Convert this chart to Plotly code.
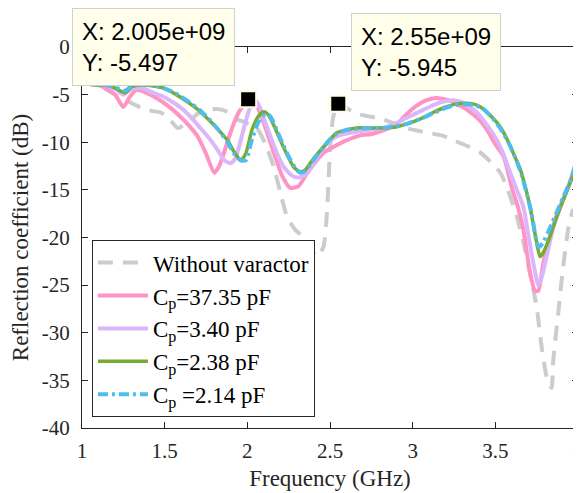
import plotly.graph_objects as go

# ---------------- data ----------------
x_gray = [1.00, 1.08, 1.15, 1.22, 1.29, 1.36, 1.42, 1.48, 1.53, 1.58, 1.64, 1.70, 1.76, 1.82, 1.88, 1.94,
          2.00, 2.06, 2.11, 2.16, 2.20, 2.24, 2.29, 2.33, 2.37, 2.42, 2.46, 2.48, 2.49, 2.50, 2.52, 2.55,
          2.60, 2.66, 2.74, 2.82, 2.90, 2.98, 3.09, 3.18, 3.25, 3.33, 3.41, 3.48, 3.53, 3.56, 3.59, 3.63,
          3.67, 3.71, 3.75, 3.78, 3.81, 3.84, 3.85, 3.88, 3.91, 3.94, 3.97]
y_gray = [-3.3, -3.8, -4.5, -5.2, -5.8, -6.4, -6.7, -6.9, -7.6, -8.5, -7.9, -7.0, -6.6, -6.5, -6.8, -7.6,
          -8.0, -8.6, -10.2, -12.6, -15.3, -17.8, -19.2, -19.8, -20.8, -22.0, -21.0, -17.8, -14.5, -10.8, -7.3, -5.9,
          -6.4, -7.0, -7.3, -7.6, -8.1, -8.6, -9.0, -9.3, -9.8, -10.4, -11.1, -12.2, -13.2, -14.3, -15.7, -17.8,
          -20.5, -23.8, -27.3, -31.5, -34.6, -35.8, -33.0, -28.0, -23.1, -19.2, -17.0]

x_pink = [1.00, 1.08, 1.14, 1.20, 1.25, 1.29, 1.33, 1.40, 1.49, 1.55, 1.60, 1.65, 1.70, 1.75, 1.80, 1.83,
          1.87, 1.91, 1.95, 1.99, 2.02, 2.06, 2.10, 2.16, 2.21, 2.26, 2.31, 2.36, 2.42, 2.47, 2.52, 2.60,
          2.68, 2.76, 2.83, 2.90, 2.96, 3.02, 3.08, 3.14, 3.20, 3.27, 3.33, 3.40, 3.45, 3.50, 3.55, 3.60,
          3.64, 3.67, 3.71, 3.74, 3.76, 3.79, 3.84, 3.89, 3.95, 4.00]
y_pink = [-3.6, -3.9, -4.3, -5.0, -6.3, -5.2, -4.5, -4.9, -5.8, -6.6, -7.4, -8.3, -9.4, -11.2, -13.2, -12.5,
          -10.5, -8.4, -6.8, -5.8, -5.6, -6.3, -8.0, -11.1, -13.5, -14.8, -14.6, -13.3, -11.9, -11.0, -10.5, -9.8,
          -9.3, -9.1, -8.7, -8.2, -7.1, -6.2, -5.6, -5.35, -5.5, -6.0, -6.6, -7.6, -8.7, -10.2, -11.5, -14.8,
          -17.0, -19.2, -23.7, -25.6, -25.6, -22.7, -19.3, -16.8, -14.3, -11.4]

x_lav = [1.00, 1.08, 1.15, 1.21, 1.25, 1.30, 1.36, 1.43, 1.49, 1.55, 1.60, 1.66, 1.71, 1.77, 1.82, 1.86,
         1.90, 1.93, 1.96, 1.99, 2.02, 2.05, 2.08, 2.11, 2.14, 2.18, 2.22, 2.27, 2.31, 2.36, 2.40, 2.44,
         2.49, 2.54, 2.60, 2.66, 2.74, 2.82, 2.90, 2.98, 3.04, 3.10, 3.17, 3.25, 3.32, 3.39, 3.45, 3.51,
         3.55, 3.59, 3.63, 3.67, 3.70, 3.73, 3.76, 3.78, 3.81, 3.85, 3.90, 3.95, 4.00]
y_lav = [-3.5, -3.8, -4.0, -4.5, -5.0, -4.4, -4.3, -4.8, -5.2, -5.8, -6.4, -7.4, -8.4, -9.6, -10.8, -11.9,
         -12.2, -11.6, -9.8, -7.8, -6.2, -5.6, -6.5, -8.0, -9.4, -11.2, -12.6, -13.5, -13.7, -13.3, -12.2, -11.1,
         -10.0, -9.4, -9.1, -8.9, -8.7, -8.5, -8.0, -7.3, -6.8, -6.3, -5.8, -5.6, -6.0, -6.9, -8.2, -9.8,
         -11.3, -13.2, -15.0, -16.8, -19.8, -22.7, -25.0, -24.2, -22.0, -19.0, -16.5, -14.2, -11.4]

x_green = [1.00, 1.08, 1.15, 1.21, 1.26, 1.30, 1.36, 1.43, 1.49, 1.57, 1.65, 1.71, 1.77, 1.83, 1.88, 1.92,
           1.96, 1.99, 2.03, 2.07, 2.10, 2.13, 2.17, 2.20, 2.24, 2.28, 2.32, 2.35, 2.38, 2.42, 2.46, 2.50,
           2.54, 2.60, 2.66, 2.74, 2.82, 2.90, 2.96, 3.04, 3.12, 3.20, 3.26, 3.32, 3.37, 3.41, 3.47, 3.53,
           3.58, 3.62, 3.65, 3.68, 3.71, 3.74, 3.77, 3.79, 3.83, 3.87, 3.91, 3.96, 4.00]
y_green = [-3.8, -4.0, -4.0, -4.4, -4.8, -4.2, -4.0, -4.1, -4.3, -5.0, -5.9, -6.7, -7.7, -8.8, -9.8, -11.0,
           -11.9, -11.2, -8.6, -7.2, -6.8, -7.2, -8.6, -9.8, -11.3, -12.6, -13.1, -12.9, -12.2, -11.3, -10.5, -9.7,
           -9.0, -8.7, -8.5, -8.5, -8.5, -8.4, -8.1, -7.6, -6.9, -6.3, -6.0, -5.9, -6.0, -6.3, -7.2, -8.4,
           -10.0, -11.6, -12.8, -14.6, -16.8, -19.6, -22.0, -21.6, -19.9, -17.9, -16.1, -13.9, -11.4]

x_blue = [1.00, 1.08, 1.15, 1.21, 1.26, 1.30, 1.36, 1.43, 1.49, 1.57, 1.65, 1.71, 1.77, 1.83, 1.88, 1.92,
          1.96, 1.99, 2.03, 2.07, 2.11, 2.14, 2.18, 2.21, 2.25, 2.29, 2.32, 2.35, 2.38, 2.42, 2.46, 2.50,
          2.54, 2.60, 2.66, 2.74, 2.82, 2.90, 2.96, 3.04, 3.12, 3.20, 3.26, 3.32, 3.37, 3.42, 3.48, 3.54,
          3.59, 3.63, 3.66, 3.69, 3.72, 3.75, 3.765, 3.79, 3.83, 3.87, 3.91, 3.96, 4.00]
y_blue = [-3.7, -3.9, -4.0, -4.3, -4.6, -4.1, -3.9, -4.0, -4.3, -4.9, -5.8, -6.6, -7.6, -8.8, -10.0, -11.2,
          -11.9, -11.9, -9.6, -7.8, -7.0, -7.3, -8.8, -10.0, -11.5, -12.7, -13.2, -13.0, -12.4, -11.4, -10.5, -9.7,
          -9.1, -8.7, -8.6, -8.5, -8.5, -8.3, -8.1, -7.6, -7.0, -6.4, -6.1, -6.0, -6.1, -6.4, -7.4, -8.8,
          -10.4, -12.0, -13.5, -15.4, -17.5, -20.5, -21.0, -20.5, -19.0, -17.4, -15.8, -13.8, -11.4]

series_names = ["Without varactor", "C<sub>p</sub>=37.35 pF", "C<sub>p</sub>=3.40 pF",
                "C<sub>p</sub>=2.38 pF", "C<sub>p</sub> =2.14 pF"]

# data tips (Hz, dB)
tip_x_hz = [2.005e9, 2.55e9]
tip_y_db = [-5.497, -5.945]
tip_labels = ["X: 2.005e+09<br>Y: -5.497", "X: 2.55e+09<br>Y: -5.945"]

x_ticks = [1, 1.5, 2, 2.5, 3, 3.5, 4]
x_ticklabels = ["1", "1.5", "2", "2.5", "3", "3.5", "4"]
y_ticks = [0, -5, -10, -15, -20, -25, -30, -35, -40]
y_ticklabels = ["0", "-5", "-10", "-15", "-20", "-25", "-30", "-35", "-40"]

# ---------------- figure ----------------
SERIF = "Liberation Serif"
SANS = "Liberation Sans"

fig = go.Figure()
fig.add_trace(go.Scatter(x=x_gray, y=y_gray, mode="lines", name=series_names[0],
                         line=dict(color="#cccccc", width=4, dash="15px,10px", shape="spline", smoothing=0.6)))
fig.add_trace(go.Scatter(x=x_pink, y=y_pink, mode="lines", name=series_names[1],
                         line=dict(color="#ff94c4", width=4, shape="spline", smoothing=0.6)))
fig.add_trace(go.Scatter(x=x_lav, y=y_lav, mode="lines", name=series_names[2],
                         line=dict(color="#dbb6fb", width=4, shape="spline", smoothing=0.6)))
fig.add_trace(go.Scatter(x=x_green, y=y_green, mode="lines", name=series_names[3],
                         line=dict(color="#77ac30", width=3.5, shape="spline", smoothing=0.6)))
fig.add_trace(go.Scatter(x=x_blue, y=y_blue, mode="lines", name=series_names[4],
                         line=dict(color="#4dbeee", width=4, dash="10px,4px,3px,4px", shape="spline", smoothing=0.6)))

fig.add_trace(go.Scatter(x=[v / 1e9 for v in tip_x_hz], y=tip_y_db, mode="markers", showlegend=False,
                         marker=dict(symbol="square", size=16, color="black",
                                     line=dict(color="#ffffe0", width=2)),
                         cliponaxis=False))

tip_pos = [(0.144, 1.0), (0.6935, 0.988)]
for (px, py), txt in zip(tip_pos, tip_labels):
    fig.add_annotation(x=px, y=py, xref="paper", yref="paper", text=txt, showarrow=False,
                       xanchor="center", yanchor="middle", align="left",
                       font=dict(family=SANS, size=24, color="black"),
                       bgcolor="#ffffeb", bordercolor="#d0d0d0", borderwidth=1, borderpad=9)

axis_common = dict(showline=True, mirror="ticks", ticks="inside", ticklen=6, tickwidth=1,
                   linecolor="#262626", linewidth=1, tickcolor="#262626", showgrid=False, zeroline=False,
                   ticklabeloverflow="allow",
                   tickfont=dict(family=SERIF, size=21, color="#262626"))

# page has an 8px body margin: figure is 573x485 so that it fills the 581x493 window
fig.update_layout(
    width=573, height=485,
    margin=dict(l=74, r=3, t=39, b=65, autoexpand=False),
    paper_bgcolor="white", plot_bgcolor="white",
    xaxis=dict(range=[1, 4], tickvals=x_ticks, ticktext=x_ticklabels, ticklabelstandoff=4,
               title=dict(text="Frequency (GHz)", font=dict(family=SERIF, size=23, color="#262626"), standoff=7),
               **axis_common),
    yaxis=dict(range=[-40, 0], tickvals=y_ticks, ticktext=y_ticklabels, ticklabelstandoff=7,
               title=dict(text="Reflection coefficient (dB)", font=dict(family=SERIF, size=23, color="#262626"), standoff=8),
               **axis_common),
    legend=dict(x=0.02, y=0.493, xanchor="left", yanchor="top", bgcolor="white",
                bordercolor="#262626", borderwidth=1, tracegroupgap=0, itemwidth=50,
                font=dict(family=SERIF, size=23, color="black")),
    showlegend=True,
)

fig.write_html("out.html")
